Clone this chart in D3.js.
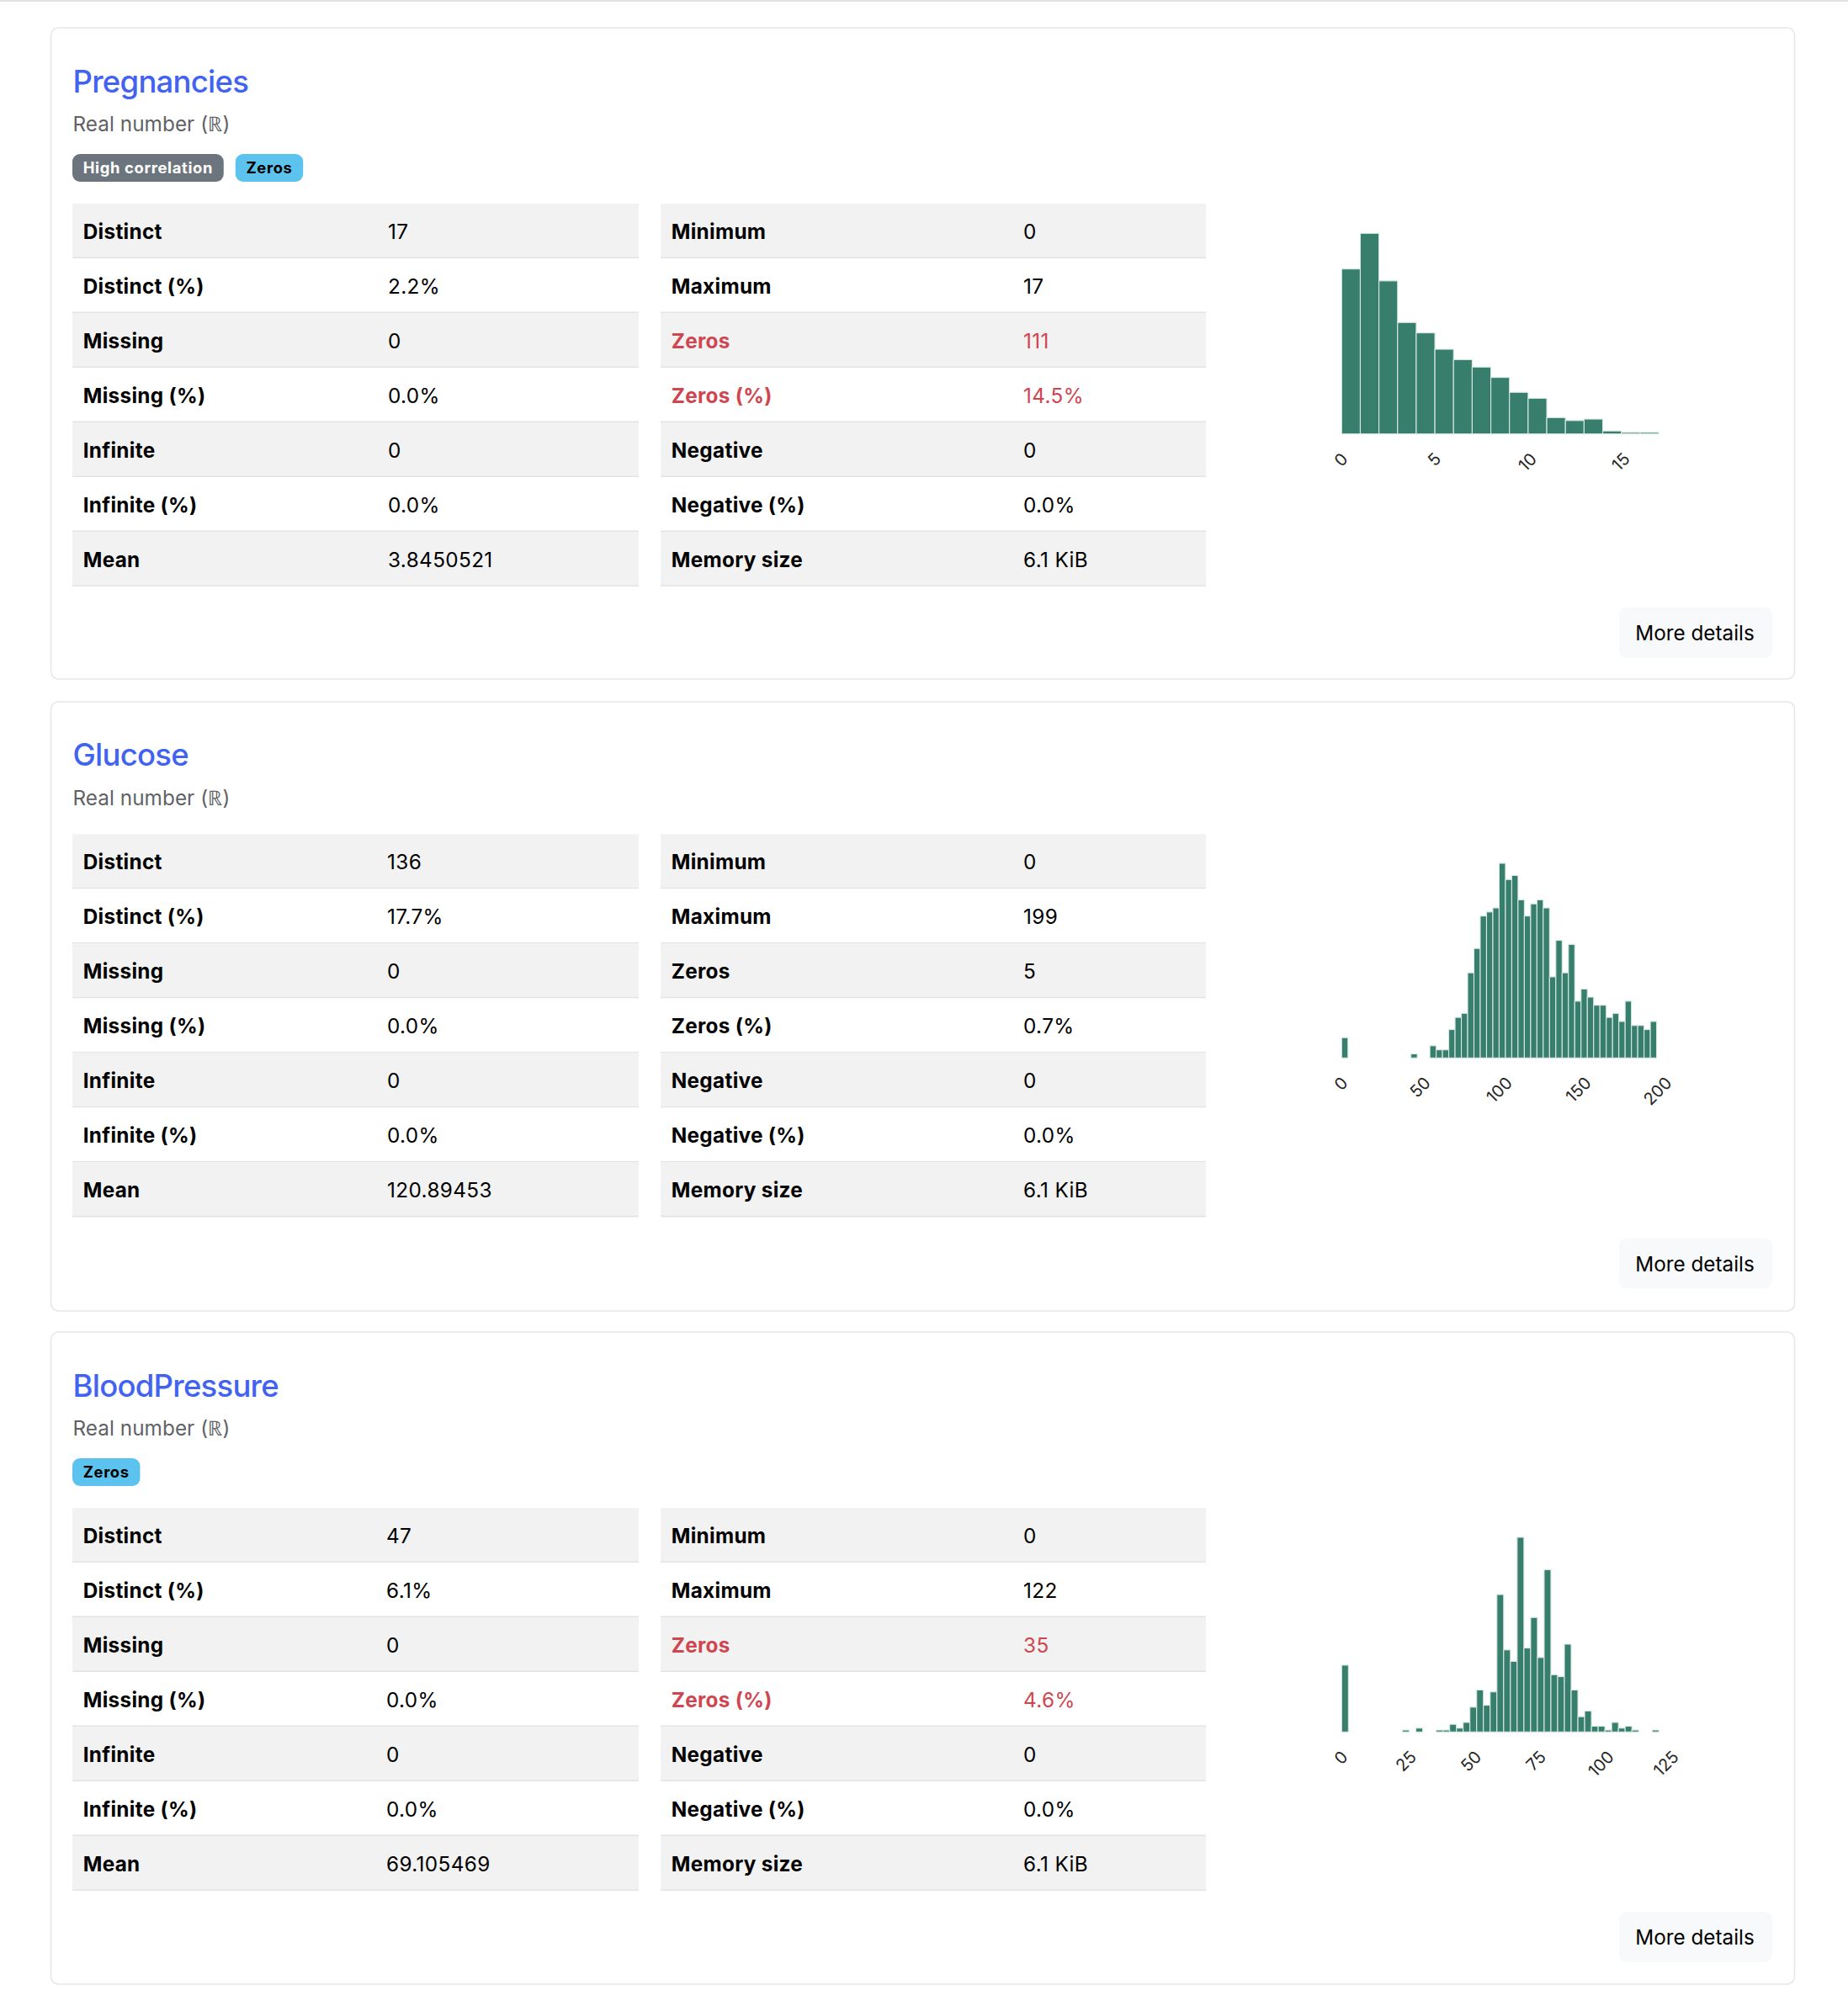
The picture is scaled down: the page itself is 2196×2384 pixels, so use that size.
<!DOCTYPE html>
<html><head><meta charset="utf-8">
<script src="https://cdn.jsdelivr.net/npm/d3@7/dist/d3.min.js"></script>
<style>
html,body{margin:0;padding:0;background:#fff}
svg{display:block}
text{font-family:Inter,"Noto Sans",sans-serif}
</style></head><body>
<svg id="page" width="2196" height="2384"></svg>
<script>
// ---------- data ----------
const names = ["Pregnancies", "Glucose", "BloodPressure"];
const subtitle = "Real number (ℝ)";
const badges = [["High correlation", "Zeros"], [], ["Zeros"]];
const leftLabels = ["Distinct", "Distinct (%)", "Missing", "Missing (%)", "Infinite", "Infinite (%)", "Mean"];
const rightLabels = ["Minimum", "Maximum", "Zeros", "Zeros (%)", "Negative", "Negative (%)", "Memory size"];
const leftValues = [
  ["17", "2.2%", "0", "0.0%", "0", "0.0%", "3.8450521"],
  ["136", "17.7%", "0", "0.0%", "0", "0.0%", "120.89453"],
  ["47", "6.1%", "0", "0.0%", "0", "0.0%", "69.105469"]
];
const rightValues = [
  ["0", "17", "111", "14.5%", "0", "0.0%", "6.1 KiB"],
  ["0", "199", "5", "0.7%", "0", "0.0%", "6.1 KiB"],
  ["0", "122", "35", "4.6%", "0", "0.0%", "6.1 KiB"]
];
const zeroAlert = [true, false, true];
const buttonLabel = "More details";

const pregnanciesCounts = [111,135,103,75,68,57,50,45,38,28,24,11,9,10,2,1,1];
const glucoseCounts = [5,0,0,0,0,0,0,0,0,0,0,1,0,0,3,2,2,7,10,11,21,27,35,36,37,48,44,45,39,35,38,39,37,20,29,21,28,14,17,15,13,13,10,11,9,14,8,8,7,9];
const pressureCounts = [35,0,0,0,0,0,0,0,0,1,0,2,0,0,1,1,4,2,5,13,22,14,21,72,43,37,102,44,60,39,85,30,29,46,22,8,11,3,3,1,5,2,3,1,0,0,1];
const histCounts = [pregnanciesCounts, glucoseCounts, pressureCounts];
const histMax = [17, 199, 122];
const histTicks = [[0,5,10,15],[0,50,100,150,200],[0,25,50,75,100,125]];

// ---------- layout ----------
const cardTop = [33, 834, 1583];
const cardHeight = [774, 724, 775];
const cardLeft = 60, cardRight = 2132;
const tableOffset = [209, 157.4, 209];
const titleOffset = [76.7, 76, 76.7];
const valueX = [461, 460, 459];
const histRange = [[1594.3, 1971], [1594.3, 1968.6], [1594.3, 1971.3]];
const histBase = [515.7, 1257.3, 2058.3];
const histTop = [277.3, 1026, 1827];
const rowH = 65;
const colors = {bar:"#377f6c", title:"#4263f0", sub:"#5f6266", rowBg:"#f2f2f2", rule:"#e1e3e8", card:"#e6e7e9",
  alert:"#cf4650", gray:"#6c757d", info:"#5cc3ee", button:"#f8f9fa", tick:"#262626", edge:"#d8e8e4"};

const svg = d3.select("#page");
svg.append("rect").attr("x",0).attr("y",0).attr("width",2196).attr("height",2).attr("fill","#dfe1e4");

names.forEach((name, c) => {
  const g = svg.append("g");
  const top = cardTop[c];
  g.append("rect").attr("x",cardLeft+.5).attr("y",top).attr("width",cardRight-cardLeft).attr("height",cardHeight[c])
    .attr("rx",9).attr("fill","#fff").attr("stroke",colors.card).attr("stroke-width",1.5);
  g.append("text").attr("x",86.5).attr("y",top+titleOffset[c]).attr("font-size",36.5).attr("font-weight",500)
    .attr("letter-spacing",-0.75).attr("fill",colors.title).text(name);
  g.append("text").attr("x",86.5).attr("y",top+123).attr("font-size",24.3).attr("letter-spacing",0.05).attr("fill",colors.sub).text(subtitle);

  // badges
  let bx = 86;
  badges[c].forEach(b => {
    const isZero = b === "Zeros";
    const bg = g.append("rect").attr("y",top+150).attr("height",33).attr("rx",9).attr("fill",isZero?colors.info:colors.gray).attr("x",bx);
    const t = g.append("text").attr("x",bx+12.7).attr("y",top+173).attr("font-size",18.4).attr("font-weight",700)
      .attr("letter-spacing",0.65).attr("fill",isZero?"#000":"#fff").text(b);
    const w = t.node().getComputedTextLength()+25.4;
    bg.attr("width",w);
    bx += w+14;
  });

  // tables
  const ty = top + tableOffset[c];
  const drawTable = (x0, x1, labels, values, vx, alert) => {
    const rows = g.append("g").selectAll("g").data(labels).join("g")
      .attr("transform",(d,i)=>`translate(0,${ty+i*rowH})`);
    rows.append("rect").attr("x",x0).attr("width",x1-x0).attr("y",0).attr("height",rowH)
      .attr("fill",(d,i)=>i%2===0?colors.rowBg:"#fff");
    rows.append("rect").attr("x",x0).attr("width",x1-x0).attr("y",rowH-1.5).attr("height",1.5).attr("fill",colors.rule);
    const col = (d,i)=>alert&&(i===2||i===3)?colors.alert:"#000";
    rows.append("text").attr("x",x0+12.7).attr("y",41.6).attr("font-size",24.3).attr("font-weight",700)
      .attr("letter-spacing",0.32).attr("fill",col).text(d=>d);
    rows.append("text").attr("x",vx).attr("y",41.6).attr("font-size",24.3).attr("letter-spacing",0.38).attr("fill",col).text((d,i)=>values[i]);
  };
  drawTable(86, 759, leftLabels, leftValues[c], valueX[c], false);
  drawTable(785, 1433, rightLabels, rightValues[c], 1216, zeroAlert[c]);

  // button
  const by = ty + 7*rowH + 25;
  g.append("rect").attr("x",1924).attr("y",by).attr("width",182).attr("height",60).attr("rx",9).attr("fill",colors.button);
  g.append("text").attr("x",2014).attr("y",by+39.2).attr("text-anchor","middle").attr("font-size",24.3).attr("fill","#000").text(buttonLabel);

  // histogram
  const counts = histCounts[c];
  const binW = histMax[c]/counts.length;
  const x = d3.scaleLinear().domain([0,histMax[c]]).range(histRange[c]);
  const y = d3.scaleLinear().domain([0,d3.max(counts)]).range([histBase[c],histTop[c]]);
  g.append("g").selectAll("rect").data(counts.map((v,i)=>({v,i})).filter(d=>d.v>0)).join("rect")
    .attr("x",d=>x(d.i*binW)).attr("width",d=>x((d.i+1)*binW)-x(d.i*binW))
    .attr("y",d=>y(d.v)).attr("height",d=>y(0)-y(d.v))
    .attr("fill",colors.bar).attr("stroke",colors.edge).attr("stroke-width",1.1);
  const axis = g.append("g").attr("transform",`translate(0,${histBase[c]})`)
    .call(d3.axisBottom(x).tickValues(histTicks[c]).tickSize(0).tickFormat(d3.format("d")));
  axis.select(".domain").remove();
  axis.selectAll("text").attr("font-family","DejaVu Sans").attr("font-size",20).attr("fill",colors.tick)
    .attr("dy",null).attr("y",0).attr("dominant-baseline","central").attr("text-anchor","middle")
    .attr("transform",function(){
      const w = this.getComputedTextLength(), h = 15.2;
      return `translate(-1.3,${20.7+(w+h)/Math.SQRT2/2}) rotate(-45)`;
    });
});
</script>
</body></html>
